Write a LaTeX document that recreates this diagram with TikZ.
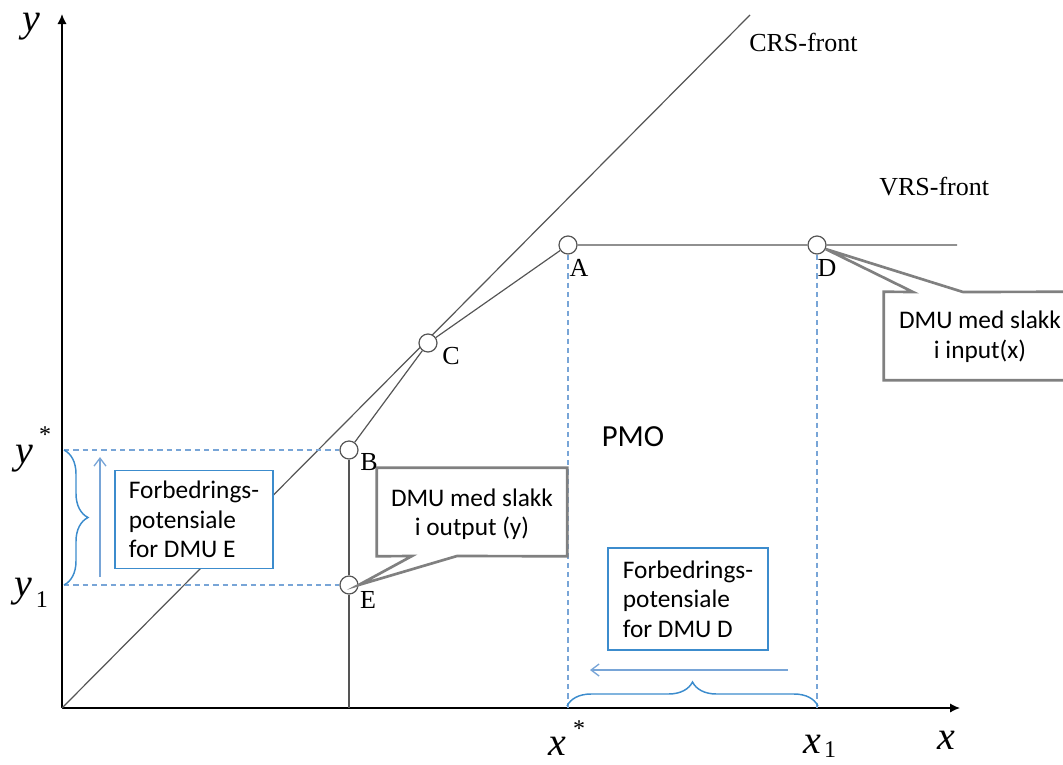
\documentclass[tikz,border=0pt]{standalone}
\usepackage{fontspec}
\setmainfont{Liberation Serif}
\newfontfamily\boxfont{Carlito}
\usetikzlibrary{arrows.meta,decorations.pathreplacing}

\definecolor{frontgray}{RGB}{85,85,85}
\definecolor{callgray}{RGB}{128,128,128}
\definecolor{dashblue}{RGB}{120,165,215}
\definecolor{boxblue}{RGB}{60,140,205}

\tikzset{
  axis/.style={black,line width=1.2pt,-{Latex[length=7.5pt,width=7pt]}},
  front/.style={draw=frontgray,line width=0.9pt},
  dmu/.style={circle,draw=frontgray,fill=white,line width=0.9pt,minimum size=13.5pt,inner sep=0pt},
  ptlab/.style={font=\fontsize{19.5}{22}\selectfont,inner sep=0pt},
  axlab/.style={font=\itshape\fontsize{30}{30}\selectfont,inner sep=0pt},
  varlab/.style={font=\itshape\fontsize{30}{30}\selectfont,inner sep=0pt},
  idx/.style={font=\fontsize{18}{18}\selectfont,inner sep=0pt},
  helpline/.style={draw=dashblue,dash pattern=on 4pt off 3pt,line width=0.8pt},
  potbox/.style={draw=boxblue,fill=white,line width=0.9pt,align=left,
    font=\boxfont\fontsize{19}{22}\selectfont,inner sep=0pt},
  slakkbox/.style={align=center,font=\boxfont\fontsize{19}{21.5}\selectfont,inner sep=0pt},
  slakkline/.style={draw=callgray,fill=white,line width=2pt,line join=miter},
  potbrace/.style={draw=boxblue,line width=1.1pt,decorate,decoration={brace,amplitude=18pt}},
  potarrow/.style={draw=dashblue,line width=1pt,-{Straight Barb[length=6pt,width=9pt]}},
}

\begin{document}
\begin{tikzpicture}[x=0.75pt,y=-0.75pt]
\useasboundingbox (0,0) rectangle (1063,764);

% axes and CRS-front
\coordinate (O) at (62,708);
\coordinate (ytop) at (62,14);
\coordinate (xend) at (960,708);
\coordinate (crstop) at (750,15);
\draw[axis] (O) -- (ytop);
\draw[axis] (O) -- (xend);
\draw[front] (O) -- (crstop);

% DMUs
\node[dmu] (A) at (568,245) {};
\node[dmu] (D) at (817,245) {};
\node[dmu] (C) at (428,343) {};
\node[dmu] (B) at (349,450) {};
\node[dmu] (E) at (349,585) {};
\coordinate (vrsend) at (957,245);

% VRS-front
\draw[front] (B) -- (C) -- (A) -- (D) -- (vrsend);
\draw[front,line width=1.3pt] (E) -- (B);
\draw[front,line width=1.3pt] (E) -- (E |- O);

% help lines
\coordinate (ystarleft) at (64,450);
\coordinate (yoneleft) at (64,585);
\draw[helpline] (ystarleft) -- (B);
\draw[helpline] (yoneleft) -- (E);
\draw[helpline] (A) -- (A |- O);
\draw[helpline] (D) -- (D |- O);

% potentials
\coordinate (xstarfoot) at (567,706);
\coordinate (xonefoot) at (818,706);
\draw[potbrace] (ystarleft) -- (yoneleft);
\draw[potbrace] (xstarfoot) -- (xonefoot);
\coordinate (uparrowstart) at (100,577);
\coordinate (uparrowend) at (100,457);
\draw[potarrow] (uparrowstart) -- (uparrowend);
\coordinate (leftarrowstart) at (788,670);
\coordinate (leftarrowend) at (590,670);
\draw[potarrow] (leftarrowstart) -- (leftarrowend);

\node[potbox,minimum width=118.5pt,minimum height=74pt] (potE) at (194,519.5)
  {Forbedrings-\\potensiale\\for DMU E};
\node[potbox,minimum width=120pt,minimum height=76.5pt] (potD) at (688,599)
  {Forbedrings-\\potensiale\\for DMU D};

% slack callouts
\node[slakkbox,minimum width=142.5pt,minimum height=66pt] (slakkE) at (472,512) {};
\coordinate (pE1) at (412,556);
\coordinate (pE2) at (457,556);
\draw[slakkline] (slakkE.north west) -- (slakkE.north east) -- (slakkE.south east)
  -- (pE2) -- (E.east) -- (pE1) -- (slakkE.south west) -- cycle;
\node[slakkbox] (slakkEtxt) at (472,514) {DMU med slakk\\i output (y)};

\node[slakkbox,minimum width=144pt,minimum height=66pt] (slakkD) at (980,336) {};
\coordinate (pD1) at (913,292);
\coordinate (pD2) at (963,292);
\draw[slakkline] (slakkD.north west) -- (pD1) -- (D.-25) -- (pD2) -- (slakkD.north east)
  -- (slakkD.south east) -- (slakkD.south west) -- cycle;
\node[slakkbox,font=\boxfont\fontsize{19}{22.5}\selectfont] (slakkDtxt) at (980,337) {DMU med slakk\\i input(x)};

% labels
\node[ptlab] (labA) at (579,268) {A};
\node[ptlab] (labD) at (827,268) {D};
\node[ptlab] (labC) at (451,356) {C};
\node[ptlab] (labB) at (369,462) {B};
\node[ptlab] (labE) at (368,600) {E};
\node[ptlab,anchor=west] (crslab) at (749,42) {CRS-front};
\node[ptlab,anchor=west] (vrslab) at (879,187) {VRS-front};
\node[font=\boxfont\fontsize{23}{23}\selectfont,inner sep=0pt] (pmo) at (633,437) {PMO};

\node[axlab] (ylab) at (31,27) {y};
\node[axlab] (xlab) at (946,740) {x};
\node[varlab] (ystar) at (24,459) {y};
\node[idx] (ystarsup) at (45,435) {*};
\node[varlab] (yone) at (23,592) {y};
\node[idx] (yonesub) at (42,600) {1};
\node[varlab] (xstar) at (557,746) {x};
\node[idx] (xstarsup) at (579,729) {*};
\node[varlab] (xone) at (812,744) {x};
\node[idx] (xonesub) at (830,750) {1};
\end{tikzpicture}
\end{document}
